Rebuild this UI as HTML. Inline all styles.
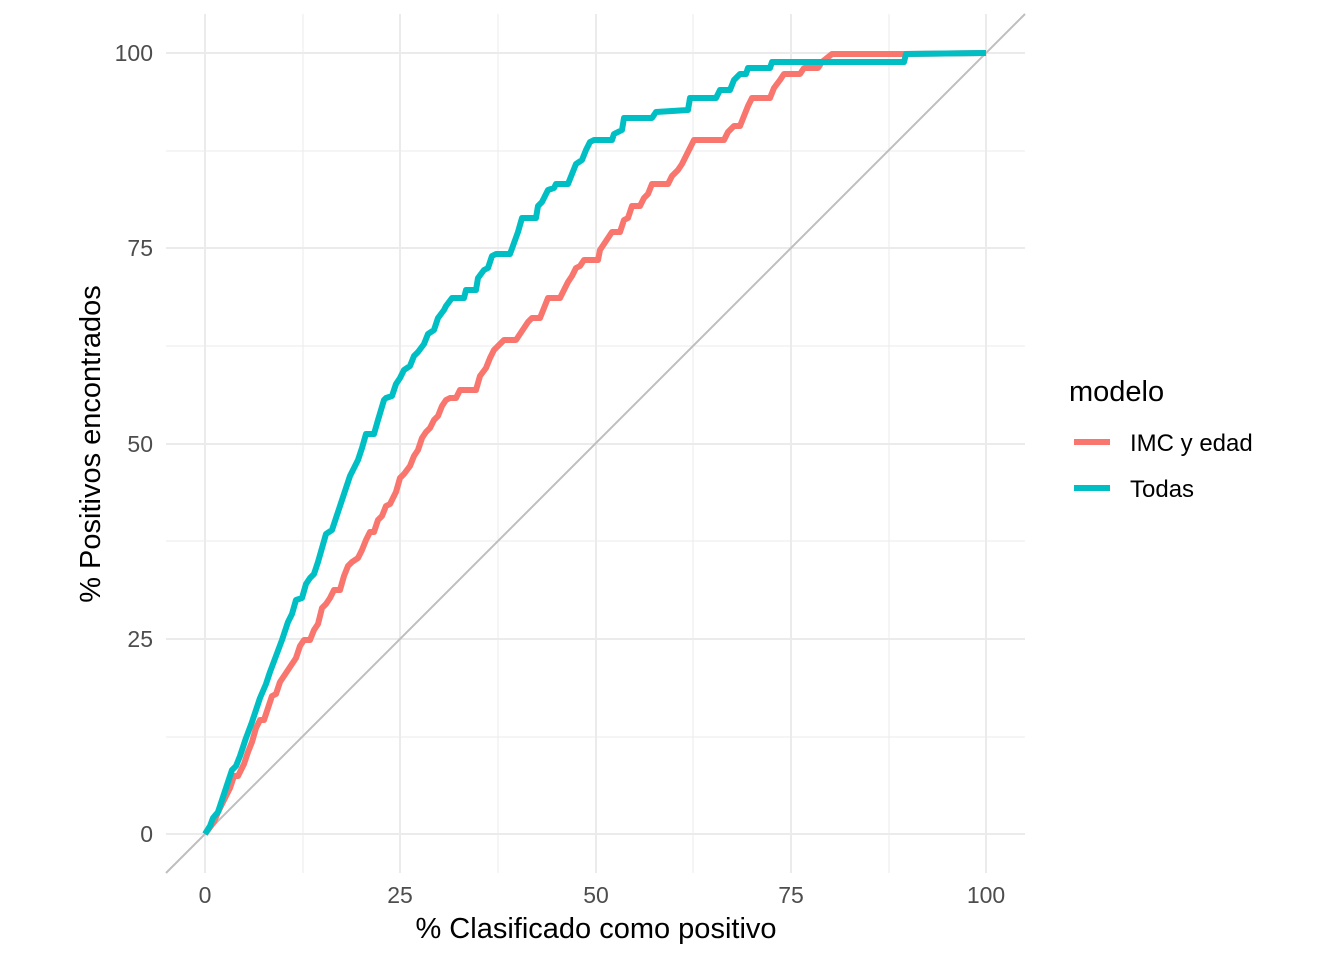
<!DOCTYPE html>
<html><head><meta charset="utf-8"><style>html,body{margin:0;padding:0;background:#fff}</style></head>
<body>
<svg width="1344" height="960" viewBox="0 0 1344 960" xmlns="http://www.w3.org/2000/svg" font-family="Liberation Sans, sans-serif">
<rect width="1344" height="960" fill="#fff"/>
<g stroke="#ebebeb" stroke-width="1">
<line x1="166" x2="1025" y1="151" y2="151"/><line x1="166" x2="1025" y1="346" y2="346"/>
<line x1="166" x2="1025" y1="541" y2="541"/><line x1="166" x2="1025" y1="737" y2="737"/>
<line y1="14" y2="873" x1="303" x2="303"/><line y1="14" y2="873" x1="498" x2="498"/>
<line y1="14" y2="873" x1="693" x2="693"/><line y1="14" y2="873" x1="889" x2="889"/>
</g>
<g stroke="#ebebeb" stroke-width="2">
<line x1="166" x2="1025" y1="53" y2="53"/><line x1="166" x2="1025" y1="248" y2="248"/>
<line x1="166" x2="1025" y1="444" y2="444"/><line x1="166" x2="1025" y1="639" y2="639"/>
<line x1="166" x2="1025" y1="834" y2="834"/>
<line y1="14" y2="873" x1="205" x2="205"/><line y1="14" y2="873" x1="400" x2="400"/>
<line y1="14" y2="873" x1="596" x2="596"/><line y1="14" y2="873" x1="791" x2="791"/>
<line y1="14" y2="873" x1="986" x2="986"/>
</g>
<line x1="166" y1="873" x2="1025" y2="14" stroke="#bebebe" stroke-width="2"/>
<polyline fill="none" stroke="#F8766D" stroke-width="6" stroke-linejoin="round" points="205,834 208,830 214,822 218,812 224,800 230,788 234,776 238,776 244,764 248,752 252,742 256,728 260,720 264,720 268,708 272,696 276,694 280,682 284,676 288,670 292,664 296,658 300,646 304,640 310,640 314,630 318,624 322,608 326,604 330,598 334,590 340,590 344,576 348,566 352,562 358,558 362,550 366,540 370,532 374,532 378,520 382,516 386,506 390,504 396,492 400,478 404,474 410,466 414,456 418,450 422,438 426,432 430,428 434,420 438,416 442,406 446,400 450,398 456,398 460,390 476,390 480,376 486,368 490,358 494,350 498,346 504,340 516,340 520,334 524,328 528,322 532,318 540,318 544,308 548,298 560,298 564,290 568,282 572,276 576,268 580,266 584,260 598,260 600,250 604,244 608,238 612,232 620,232 624,220 628,218 632,206 640,206 644,198 648,194 652,184 668,184 672,176 678,170 682,164 686,156 690,148 694,140 724,140 728,132 734,126 740,126 744,116 748,106 752,98 770,98 774,88 780,80 784,74 800,74 804,68 818,68 822,62 832,54 904,54 986,53"/>
<polyline fill="none" stroke="#00BFC4" stroke-width="6" stroke-linejoin="round" points="205,834 210,826 213,818 218,812 222,800 228,782 232,770 236,766 240,756 246,738 252,722 256,710 260,698 266,684 270,672 276,656 282,640 288,622 292,614 296,600 302,598 306,584 310,578 314,574 318,562 322,548 326,534 332,530 336,518 340,506 346,488 350,476 354,468 358,460 362,448 366,434 374,434 378,420 384,400 386,398 392,396 396,384 400,378 404,370 410,366 414,356 418,352 424,344 428,334 434,330 438,318 444,310 446,306 452,298 464,298 466,290 476,290 478,278 484,270 488,268 492,256 496,254 510,254 518,232 522,218 536,218 538,206 542,202 548,190 554,188 556,184 568,184 576,164 582,160 586,150 590,142 594,140 612,140 614,134 622,130 624,118 652,118 656,112 688,110 690,98 716,98 720,90 730,90 734,80 740,74 746,74 748,68 770,68 772,62 904,62 906,54 986,53"/>
<g fill="#4d4d4d" font-size="23" text-anchor="end">
<text x="153" y="61">100</text><text x="153" y="256">75</text><text x="153" y="452">50</text>
<text x="153" y="647">25</text><text x="153" y="842">0</text>
</g>
<g fill="#4d4d4d" font-size="23" text-anchor="middle">
<text x="205" y="903">0</text><text x="400" y="903">25</text><text x="596" y="903">50</text>
<text x="791" y="903">75</text><text x="986" y="903">100</text>
</g>
<text x="596" y="938" font-size="29" text-anchor="middle" fill="#000">% Clasificado como positivo</text>
<text transform="translate(100,444) rotate(-90)" font-size="29" text-anchor="middle" fill="#000">% Positivos encontrados</text>
<text x="1069" y="401" font-size="29" fill="#000">modelo</text>
<line x1="1074" x2="1110" y1="442" y2="442" stroke="#F8766D" stroke-width="6"/>
<line x1="1074" x2="1110" y1="488" y2="488" stroke="#00BFC4" stroke-width="6"/>
<text x="1130" y="451" font-size="24" fill="#000">IMC y edad</text>
<text x="1130" y="497" font-size="24" fill="#000">Todas</text>
</svg>
</body></html>
